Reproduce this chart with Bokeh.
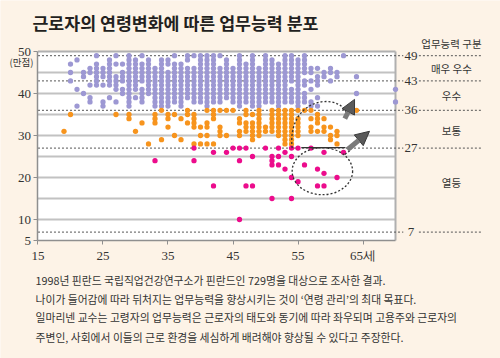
from bokeh.plotting import figure
from bokeh.models import Range1d, FixedTicker, Label, Arrow, NormalHead
from bokeh.embed import file_html
from bokeh.resources import INLINE

# ---------------- data ----------------
title_text = "근로자의 연령변화에 따른 업무능력 분포"
unit_text = "(만점)"
legend_title = "업무능력 구분"
grade_names = ["매우 우수", "우수", "보통", "열등"]
grade_cuts = [49, 43, 36, 27, 7]
x_ticks = [15, 25, 35, 45, 55, 65]
x_tick_labels = ["15", "25", "35", "45", "55", "65세"]
y_ticks = [5, 10, 20, 30, 40, 50]
grid_levels = [10, 15, 20, 25, 30, 35, 40, 45]
notes = [
    "1998년 핀란드 국립직업건강연구소가 핀란드인 729명을 대상으로 조사한 결과.",
    "나이가 들어감에 따라 뒤처지는 업무능력을 향상시키는 것이  ‘연령 관리’의 최대 목표다.",
    "일마리넨 교수는 고령자의 업무능력은 근로자의 태도와 동기에 따라 좌우되며 고용주와 근로자의",
    "주변인, 사회에서 이들의 근로 환경을 세심하게 배려해야 향상될 수 있다고 주장한다.",
]

# age -> work-ability scores
excellent = {
    20: [47, 45, 43],
    21: [48, 41, 37],
    22: [45, 44, 40],
    23: [46, 45, 42, 39, 38],
    24: [49, 47, 46, 45, 44, 43, 42],
    25: [46, 45, 44, 42, 38, 37],
    26: [48, 47, 46, 45, 44, 43, 42, 39],
    27: [49, 47, 44, 43, 42, 41, 38],
    28: [47, 45, 44, 43, 41, 40],
    29: [49, 48, 47, 46, 45, 44, 43, 42, 41, 40, 39, 38, 37],
    30: [48, 47, 46, 45, 44, 43, 42, 41, 39],
    31: [49, 47, 46, 45, 44, 43, 41, 40, 39, 38],
    32: [48, 47, 46, 45, 44, 43, 42, 41, 40],
    33: [46, 45, 44, 43, 42, 41, 40, 39, 38, 37],
    34: [48, 47, 46, 45, 44, 43, 42, 41, 40, 39, 38, 37],
    35: [48, 47, 45, 44, 43, 42, 41, 40, 39, 38, 37],
    36: [49, 47, 46, 45, 44, 43, 42, 41, 40, 39, 38],
    37: [47, 46, 45, 44, 43, 42, 41, 40, 39, 38, 37],
    38: [49, 48, 46, 45, 44, 43, 42, 41, 40, 39],
    39: [49, 46, 45, 44, 43, 42, 41, 40, 39, 38],
    40: [49, 48, 47, 46, 45, 44, 43, 42, 41, 40, 39, 38],
    41: [49, 48, 47, 46, 45, 44, 43, 42, 41, 40, 39, 38, 37],
    42: [49, 48, 47, 46, 45, 44, 43, 42, 41, 40, 39, 38],
    43: [49, 46, 45, 44, 43, 42, 41, 40, 39, 38],
    44: [48, 47, 46, 45, 44, 43, 42, 41, 40, 39],
    45: [46, 45, 44, 43, 42, 41, 40, 39, 38],
    46: [49, 48, 47, 46, 45, 44, 43, 42, 41, 40, 39, 38, 37],
    47: [47, 46, 45, 44, 43, 42, 41, 40, 39, 38],
    48: [49, 48, 47, 46, 45, 44, 43, 42, 41, 40, 39, 38, 37],
    49: [46, 45, 44, 43, 42, 41, 40, 39, 38, 37],
    50: [49, 48, 47, 46, 45, 44, 43, 42, 41, 40, 39, 38],
    51: [48, 47, 46, 45, 44, 43, 42, 41, 40, 39, 38],
    52: [47, 46, 45, 44, 43, 42, 41, 40, 39, 38, 37],
    53: [49, 48, 47, 46, 45, 44, 43, 42, 41, 40, 39, 38],
    54: [49, 48, 47, 46, 45, 44, 43, 41, 40, 39, 38],
    55: [48, 47, 46, 45, 44, 43, 42, 41, 40, 39, 38, 37],
    56: [49, 48, 47, 46, 45, 43, 42, 40, 39, 38],
    57: [46, 45, 43, 41, 38, 37],
    58: [46, 44, 43, 42, 39, 37],
    59: [45, 44],
    60: [46, 45, 43],
    61: [45, 44],
    62: [49],
    64: [44, 40],
    70: [41, 38],
}
normal = {
    19: [31],
    20: [35],
    27: [35],
    29: [35, 34],
    30: [31],
    31: [33],
    32: [28],
    33: [35, 34, 33],
    34: [36, 29],
    35: [35, 34, 32],
    36: [35, 30],
    37: [34, 29],
    38: [36, 35, 33],
    39: [35, 34, 33, 32, 28],
    40: [32, 30, 28],
    41: [36, 33, 32, 30, 28],
    42: [36, 35, 34, 28],
    43: [36, 32, 31, 30],
    44: [36, 30],
    45: [36],
    46: [34, 33, 31, 30],
    47: [36, 35, 33, 32, 31],
    48: [35, 33, 32, 31, 30, 29],
    49: [36, 35, 34, 33, 32, 31, 30],
    50: [32, 31],
    51: [36, 35, 34, 33, 32, 31],
    52: [36, 35, 34, 33, 32, 31, 30],
    53: [36, 35, 34, 33, 32, 31, 30, 29, 28],
    54: [36, 35, 34, 33, 32, 31, 30, 29, 28],
    55: [36, 34, 33, 32, 31, 30],
    56: [36],
    57: [36, 34, 32, 31],
    58: [35, 34, 33, 31],
    59: [34, 32, 31],
    60: [32, 30, 29],
    61: [31, 30, 28],
    64: [36],
}
poor = {
    33: [24],
    39: [27, 24],
    42: [26, 18],
    44: [26],
    45: [27],
    46: [27, 24, 10],
    47: [27, 18],
    48: [25, 18],
    50: [27],
    51: [25, 24, 23, 15],
    52: [27, 25, 23],
    53: [26, 22],
    54: [27, 25, 20, 15],
    55: [27, 19],
    56: [23],
    57: [27],
    58: [22, 18],
    59: [26, 21, 18],
    61: [20],
    62: [26],
}

# ---------------- style ----------------
CREAM = "#fdf3e7"
C_EXC = "#9d98d3"
C_NOR = "#f7941d"
C_POOR = "#ec0c8c"
NUM_FONT = "Liberation Sans Narrow"
KR_FONT = "Noto Sans CJK KR"
X_MIN, X_MAX = 9.2308, 86.1538   # whole canvas in data units (6.5 px / year)
Y_MIN, Y_MAX = -23.095, 62.143   # whole canvas in data units (4.2 px / point)
PLOT_RIGHT = 70


def flatten(d):
    xs, ys = [], []
    for age, vals in d.items():
        for v in vals:
            xs.append(age)
            ys.append(v)
    return xs, ys


p = figure(width=500, height=358, x_range=Range1d(X_MIN, X_MAX), y_range=Range1d(Y_MIN, Y_MAX),
           output_backend="svg", toolbar_location=None, title=None,
           min_border=0, background_fill_color=CREAM, border_fill_color=CREAM,
           outline_line_color=None)

# backgrounds
p.quad(left=[X_MIN], right=[X_MAX], bottom=[Y_MIN], top=[Y_MAX],
       fill_color=CREAM, line_color=None, level="image")
p.quad(left=[x_ticks[0]], right=[PLOT_RIGHT], bottom=[y_ticks[0]], top=[y_ticks[-1]],
       fill_color="white", line_color=None, level="image")

# axes (placed at data positions so the frame can cover the whole canvas)
p.xaxis.fixed_location = y_ticks[0]
p.yaxis.fixed_location = x_ticks[0]
p.xaxis.ticker = FixedTicker(ticks=x_ticks)
p.xaxis.major_label_overrides = {t: l for t, l in zip(x_ticks, x_tick_labels)}
p.xaxis.bounds = (x_ticks[0], PLOT_RIGHT)
p.yaxis.ticker = FixedTicker(ticks=y_ticks)
p.yaxis.bounds = (y_ticks[0], y_ticks[-1])
for ax in (p.xaxis, p.yaxis):
    ax.axis_line_color = "#8f8f8f"
    ax.axis_line_width = 1.5
    ax.major_tick_line_color = "#8f8f8f"
    ax.major_tick_out = 4
    ax.major_tick_in = 0
    ax.minor_tick_line_color = None
    ax.major_label_text_font = NUM_FONT
    ax.major_label_text_font_size = "13px"
    ax.major_label_text_color = "#333333"
    ax.major_label_standoff = 3

p.xgrid.visible = False
p.ygrid.visible = False

# horizontal grid lines inside the plot area
p.segment(x0=[x_ticks[0]] * len(grid_levels), y0=grid_levels,
          x1=[PLOT_RIGHT] * len(grid_levels), y1=grid_levels,
          line_color="#c2c2c2", line_width=1.8)

# plot top / right border
p.segment(x0=[x_ticks[0], PLOT_RIGHT], y0=[y_ticks[-1], y_ticks[0]],
          x1=[PLOT_RIGHT, PLOT_RIGHT], y1=[y_ticks[-1], y_ticks[-1]],
          line_color="#b0b0b0", line_width=2)

# grade cut lines (dotted) with gap for their labels
for lv in grade_cuts:
    p.segment(x0=[x_ticks[0], 73.6], y0=[lv, lv], x1=[71.2, 83.3], y1=[lv, lv],
              line_color="#555555", line_width=1, line_dash="2 2")
    p.add_layout(Label(x=72.4, y=lv, text=str(lv), text_align="center", text_baseline="middle",
                       text_font=NUM_FONT, text_font_size="13px", text_color="#333333"))

# grade names
name_y = [46, 39.5, 31.3, 18.8]
for nm, ny in zip(grade_names, name_y):
    p.add_layout(Label(x=78.6, y=ny, text=nm, text_align="center", text_baseline="middle",
                       text_font=KR_FONT, text_font_size="10.5px", text_color="#333333"))
p.add_layout(Label(x=78.6, y=51.9, text=legend_title, text_align="center", text_baseline="middle",
                   text_font=KR_FONT, text_font_size="10.5px", text_color="#333333"))

# points
for d, c in ((excellent, C_EXC), (normal, C_NOR), (poor, C_POOR)):
    xs, ys = flatten(d)
    p.scatter(xs, ys, size=5.3, fill_color=c, line_color=None)

# annotations: dotted loops and arrows
p.ellipse(x=[58.75], y=[21.5], width=[9.3], height=[11.2], fill_color=None,
          line_color="#333333", line_dash="2 2", line_width=1.3)
p.bezier(x0=[54.1], y0=[27.0], x1=[62.6], y1=[34.3], cx0=[53.2], cy0=[39.8], cx1=[62.3], cy1=[40.5],
         line_color="#333333", line_dash="2 2", line_width=1.3)
p.bezier(x0=[62.2], y0=[25.5], x1=[64.0], y1=[28.5], cx0=[63.3], cy0=[26.5], cx1=[63.5], cy1=[27.8],
         line_color="#333333", line_dash="2 2", line_width=1.3)
p.segment(x0=[55.5], y0=[27.1], x1=[62.3], y1=[27.1], line_color="#333333", line_width=1.3)
p.add_layout(Arrow(end=NormalHead(size=14, fill_color="#5a5a5a", line_color="#3a3a3a"),
                   x_start=62.2, y_start=34.0, x_end=63.7, y_end=38.6,
                   line_color="#7a7a7a", line_width=5))
p.add_layout(Arrow(end=NormalHead(size=14, fill_color="#5a5a5a", line_color="#3a3a3a"),
                   x_start=62.6, y_start=26.6, x_end=66.0, y_end=31.0,
                   line_color="#7a7a7a", line_width=5))

# title, unit and notes
p.add_layout(Label(x=14.15, y=57.0, text=title_text, text_align="left", text_baseline="middle",
                   text_font=KR_FONT, text_font_size="17.3px", text_font_style="bold",
                   text_color="#231f20"))
p.add_layout(Label(x=12.46, y=47.4, text=unit_text, text_align="center", text_baseline="middle",
                   text_font=KR_FONT, text_font_size="9.5px", text_color="#333333"))
note_y = [-4.5, -8.9, -13.3, -17.9]
for t, ny in zip(notes, note_y):
    p.add_layout(Label(x=14.62, y=ny, text=t, text_align="left", text_baseline="middle",
                       text_font=KR_FONT, text_font_size="10.8px", text_color="#333333"))

open("out.html", "w").write(file_html(p, INLINE))
